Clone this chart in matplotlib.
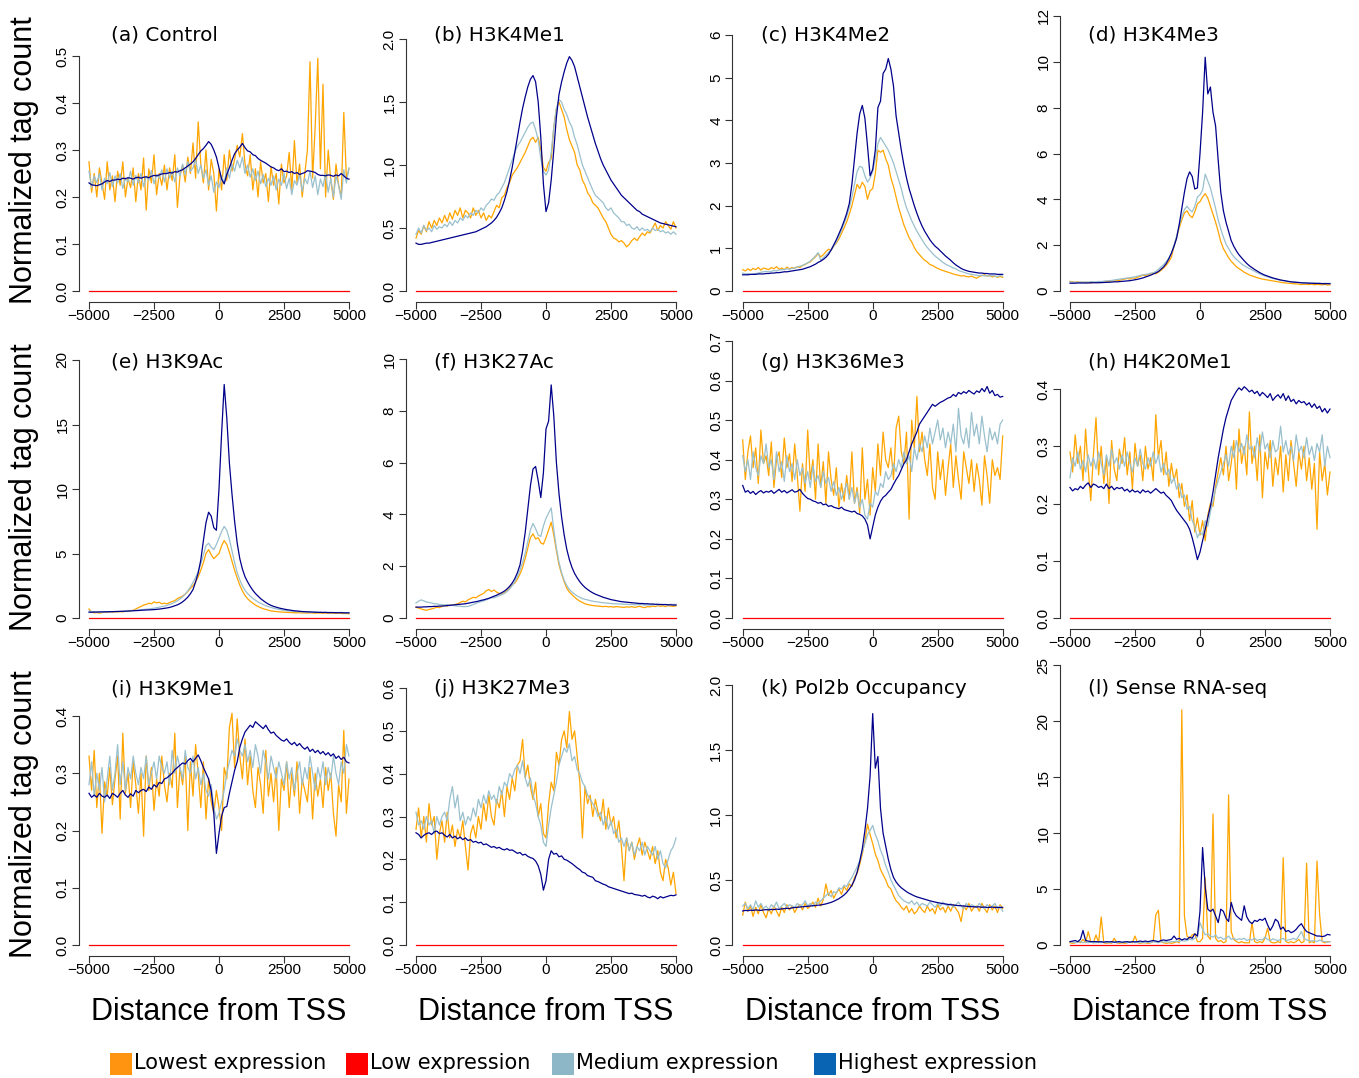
import matplotlib
matplotlib.use("Agg")
import matplotlib.pyplot as plt
from matplotlib.patches import Rectangle

W, H = 1359, 1078

# distancia ao TSS (pb)
dist = list(range(-5000, 5001, 100))
low_expr = [0.0] * len(dist)

# (a) Control
a_lowest = [0.275, 0.210, 0.250, 0.200, 0.262, 0.230, 0.195, 0.275, 0.215, 0.245,
            0.190, 0.255, 0.225, 0.275, 0.200, 0.240, 0.220, 0.262, 0.190, 0.250,
            0.215, 0.283, 0.172, 0.260, 0.230, 0.290, 0.205, 0.250, 0.225, 0.268,
            0.215, 0.262, 0.235, 0.290, 0.178, 0.245, 0.268, 0.232, 0.285, 0.250,
            0.315, 0.240, 0.360, 0.270, 0.230, 0.300, 0.215, 0.280, 0.250, 0.170,
            0.260, 0.215, 0.290, 0.235, 0.300, 0.255, 0.280, 0.310, 0.285, 0.335,
            0.270, 0.245, 0.290, 0.215, 0.260, 0.200, 0.275, 0.230, 0.250, 0.190,
            0.265, 0.225, 0.250, 0.185, 0.270, 0.230, 0.245, 0.295, 0.215, 0.320,
            0.230, 0.270, 0.200, 0.250, 0.300, 0.488, 0.240, 0.350, 0.495, 0.260,
            0.440, 0.200, 0.300, 0.235, 0.195, 0.270, 0.225, 0.200, 0.380, 0.240,
            0.260]
a_medium = [0.255, 0.220, 0.245, 0.230, 0.250, 0.215, 0.240, 0.228, 0.252, 0.222,
            0.245, 0.230, 0.250, 0.218, 0.240, 0.232, 0.255, 0.225, 0.246, 0.230,
            0.250, 0.222, 0.244, 0.236, 0.256, 0.228, 0.248, 0.240, 0.258, 0.232,
            0.260, 0.240, 0.255, 0.232, 0.262, 0.245, 0.270, 0.248, 0.275, 0.255,
            0.262, 0.280, 0.250, 0.268, 0.240, 0.258, 0.225, 0.245, 0.210, 0.232,
            0.220, 0.245, 0.228, 0.262, 0.240, 0.270, 0.255, 0.278, 0.262, 0.285,
            0.250, 0.268, 0.242, 0.260, 0.235, 0.255, 0.228, 0.248, 0.222, 0.240,
            0.225, 0.245, 0.215, 0.238, 0.225, 0.250, 0.218, 0.240, 0.205, 0.235,
            0.225, 0.248, 0.212, 0.240, 0.228, 0.255, 0.220, 0.245, 0.205, 0.238,
            0.222, 0.250, 0.210, 0.240, 0.200, 0.245, 0.225, 0.195, 0.258, 0.230,
            0.262]
a_highest = [0.230, 0.226, 0.225, 0.224, 0.226, 0.228, 0.232, 0.235, 0.233, 0.236,
             0.236, 0.238, 0.237, 0.240, 0.239, 0.241, 0.240, 0.238, 0.241, 0.242,
             0.240, 0.242, 0.243, 0.241, 0.244, 0.246, 0.245, 0.247, 0.249, 0.250,
             0.250, 0.252, 0.251, 0.254, 0.253, 0.256, 0.258, 0.262, 0.266, 0.270,
             0.275, 0.282, 0.290, 0.298, 0.303, 0.310, 0.318, 0.312, 0.300, 0.285,
             0.262, 0.238, 0.228, 0.248, 0.262, 0.278, 0.292, 0.300, 0.306, 0.314,
             0.305, 0.298, 0.296, 0.290, 0.288, 0.282, 0.278, 0.275, 0.272, 0.268,
             0.264, 0.262, 0.258, 0.256, 0.260, 0.254, 0.255, 0.252, 0.254, 0.250,
             0.252, 0.248, 0.250, 0.252, 0.256, 0.255, 0.254, 0.252, 0.248, 0.246,
             0.246, 0.245, 0.247, 0.246, 0.244, 0.247, 0.245, 0.250, 0.245, 0.240,
             0.238]

# (b) H3K4Me1
b_lowest = [0.42, 0.48, 0.45, 0.52, 0.47, 0.55, 0.50, 0.56, 0.52, 0.58,
            0.54, 0.60, 0.55, 0.62, 0.57, 0.64, 0.60, 0.66, 0.58, 0.64,
            0.62, 0.58, 0.66, 0.60, 0.64, 0.58, 0.62, 0.56, 0.60, 0.58,
            0.63, 0.68, 0.66, 0.74, 0.76, 0.82, 0.86, 0.92, 0.95, 0.98,
            1.02, 1.06, 1.10, 1.15, 1.20, 1.22, 1.18, 1.22, 1.12, 0.98,
            0.95, 1.02, 1.05, 1.30, 1.45, 1.50, 1.44, 1.38, 1.28, 1.20,
            1.15, 1.10, 1.00, 0.96, 0.88, 0.84, 0.78, 0.75, 0.70, 0.68,
            0.66, 0.62, 0.58, 0.55, 0.50, 0.45, 0.42, 0.41, 0.39, 0.40,
            0.38, 0.35, 0.37, 0.40, 0.42, 0.40, 0.43, 0.46, 0.44, 0.47,
            0.46, 0.50, 0.54, 0.48, 0.52, 0.50, 0.55, 0.52, 0.49, 0.55,
            0.50]
b_medium = [0.45, 0.50, 0.46, 0.52, 0.48, 0.50, 0.47, 0.52, 0.49, 0.51,
            0.50, 0.53, 0.51, 0.55, 0.52, 0.56, 0.54, 0.58, 0.56, 0.60,
            0.58, 0.62, 0.60, 0.64, 0.62, 0.66, 0.64, 0.68, 0.70, 0.73,
            0.72, 0.76, 0.78, 0.82, 0.86, 0.92, 0.98, 1.04, 1.10, 1.15,
            1.18, 1.22, 1.26, 1.30, 1.33, 1.34, 1.28, 1.20, 1.05, 0.95,
            0.92, 0.96, 1.10, 1.30, 1.45, 1.52, 1.50, 1.44, 1.40, 1.34,
            1.30, 1.22, 1.16, 1.08, 1.00, 0.95, 0.90, 0.85, 0.80, 0.76,
            0.74, 0.72, 0.70, 0.66, 0.64, 0.66, 0.62, 0.60, 0.58, 0.55,
            0.55, 0.52, 0.53, 0.50, 0.49, 0.51, 0.48, 0.50, 0.48, 0.49,
            0.47, 0.50, 0.48, 0.49, 0.47, 0.48, 0.46, 0.47, 0.45, 0.47,
            0.45]
b_highest = [0.38, 0.37, 0.37, 0.375, 0.38, 0.38, 0.385, 0.39, 0.395, 0.40,
             0.405, 0.41, 0.415, 0.42, 0.425, 0.43, 0.435, 0.44, 0.445, 0.45,
             0.455, 0.46, 0.465, 0.47, 0.48, 0.49, 0.50, 0.51, 0.525, 0.54,
             0.56, 0.585, 0.62, 0.66, 0.72, 0.79, 0.88, 0.98, 1.10, 1.22,
             1.34, 1.45, 1.54, 1.62, 1.68, 1.71, 1.66, 1.50, 1.22, 0.85,
             0.63, 0.70, 0.88, 1.12, 1.38, 1.56, 1.66, 1.74, 1.81, 1.86,
             1.83, 1.78, 1.70, 1.62, 1.54, 1.46, 1.38, 1.31, 1.24, 1.17,
             1.11, 1.05, 1.00, 0.96, 0.92, 0.88, 0.85, 0.82, 0.79, 0.76,
             0.74, 0.72, 0.70, 0.68, 0.66, 0.64, 0.63, 0.61, 0.60, 0.59,
             0.58, 0.57, 0.56, 0.55, 0.54, 0.535, 0.53, 0.525, 0.52, 0.515,
             0.51]

# (c) H3K4Me2
c_lowest = [0.50, 0.47, 0.52, 0.48, 0.53, 0.50, 0.55, 0.49, 0.54, 0.52,
            0.50, 0.55, 0.52, 0.57, 0.51, 0.54, 0.50, 0.56, 0.52, 0.55,
            0.53, 0.57, 0.55, 0.60, 0.62, 0.66, 0.68, 0.75, 0.80, 0.88,
            0.80, 0.85, 0.92, 0.98, 0.95, 1.05, 1.12, 1.22, 1.35, 1.48,
            1.62, 1.80, 2.00, 2.25, 2.50, 2.40, 2.55, 2.45, 2.15, 2.35,
            2.40, 2.75, 3.30, 3.25, 3.30, 3.10, 2.95, 2.65, 2.45, 2.20,
            1.95, 1.75, 1.55, 1.40, 1.25, 1.15, 1.02, 0.92, 0.85, 0.78,
            0.72, 0.68, 0.62, 0.60, 0.56, 0.53, 0.50, 0.48, 0.46, 0.44,
            0.42, 0.40, 0.38, 0.37, 0.35, 0.36, 0.34, 0.33, 0.35, 0.32,
            0.30, 0.34, 0.36, 0.38, 0.35, 0.36, 0.33, 0.35, 0.32, 0.34,
            0.32]
c_medium = [0.42, 0.40, 0.41, 0.39, 0.40, 0.41, 0.42, 0.44, 0.45, 0.46,
            0.45, 0.46, 0.48, 0.47, 0.49, 0.50, 0.50, 0.52, 0.51, 0.53,
            0.54, 0.56, 0.58, 0.60, 0.63, 0.66, 0.70, 0.76, 0.82, 0.90,
            0.72, 0.78, 0.84, 0.90, 0.96, 1.05, 1.15, 1.28, 1.42, 1.58,
            1.75, 1.95, 2.20, 2.50, 2.80, 2.92, 2.90, 2.70, 2.55, 2.65,
            2.80, 3.10, 3.45, 3.60, 3.50, 3.40, 3.30, 3.15, 3.00, 2.80,
            2.60, 2.40, 2.15, 1.95, 1.80, 1.65, 1.52, 1.40, 1.30, 1.20,
            1.10, 1.02, 0.95, 0.88, 0.82, 0.77, 0.72, 0.67, 0.63, 0.60,
            0.57, 0.54, 0.52, 0.48, 0.46, 0.44, 0.42, 0.40, 0.39, 0.38,
            0.37, 0.36, 0.37, 0.35, 0.36, 0.35, 0.36, 0.35, 0.34, 0.36,
            0.35]
c_highest = [0.38, 0.38, 0.38, 0.39, 0.39, 0.39, 0.40, 0.40, 0.40, 0.41,
             0.41, 0.42, 0.42, 0.43, 0.43, 0.44, 0.45, 0.45, 0.46, 0.47,
             0.48, 0.49, 0.50, 0.51, 0.53, 0.55, 0.57, 0.60, 0.63, 0.67,
             0.70, 0.74, 0.79, 0.86, 0.96, 1.08, 1.20, 1.34, 1.48, 1.64,
             1.82, 2.05, 2.50, 3.10, 3.70, 4.15, 4.35, 4.05, 3.40, 2.70,
             2.85, 3.30, 4.30, 4.45, 5.10, 5.20, 5.45, 5.20, 4.80, 4.10,
             3.70, 3.30, 2.95, 2.65, 2.40, 2.20, 2.00, 1.82, 1.66, 1.52,
             1.40, 1.30, 1.20, 1.12, 1.05, 1.00, 0.94, 0.88, 0.82, 0.77,
             0.72, 0.66, 0.61, 0.57, 0.53, 0.50, 0.48, 0.46, 0.45, 0.44,
             0.43, 0.42, 0.42, 0.41, 0.41, 0.40, 0.40, 0.40, 0.39, 0.39,
             0.39]

# (d) H3K4Me3
d_lowest = [0.42, 0.40, 0.38, 0.40, 0.37, 0.39, 0.36, 0.38, 0.35, 0.38,
            0.37, 0.39, 0.36, 0.40, 0.42, 0.41, 0.44, 0.43, 0.47, 0.46,
            0.50, 0.52, 0.55, 0.52, 0.58, 0.55, 0.60, 0.64, 0.70, 0.66,
            0.72, 0.74, 0.78, 0.75, 0.82, 0.90, 1.00, 1.12, 1.28, 1.48,
            1.95, 2.35, 2.75, 3.10, 3.40, 3.50, 3.30, 3.20, 3.45, 3.80,
            3.90, 4.10, 4.25, 4.05, 3.70, 3.35, 3.00, 2.60, 2.15, 1.85,
            1.65, 1.45, 1.30, 1.18, 1.05, 0.98, 0.90, 0.82, 0.76, 0.70,
            0.66, 0.62, 0.58, 0.55, 0.52, 0.50, 0.48, 0.46, 0.44, 0.42,
            0.40, 0.38, 0.36, 0.35, 0.34, 0.33, 0.32, 0.31, 0.30, 0.28,
            0.30, 0.29, 0.28, 0.30, 0.27, 0.29, 0.28, 0.27, 0.29, 0.26,
            0.27]
d_medium = [0.40, 0.38, 0.39, 0.37, 0.40, 0.38, 0.40, 0.39, 0.41, 0.40,
            0.40, 0.42, 0.41, 0.43, 0.44, 0.45, 0.46, 0.48, 0.50, 0.52,
            0.53, 0.55, 0.57, 0.58, 0.60, 0.62, 0.65, 0.68, 0.70, 0.72,
            0.74, 0.78, 0.80, 0.85, 0.95, 1.05, 1.15, 1.28, 1.45, 1.65,
            2.00, 2.40, 2.85, 3.25, 3.55, 3.70, 3.55, 3.45, 3.70, 4.10,
            4.20, 4.40, 5.10, 4.80, 4.50, 4.05, 3.60, 3.10, 2.70, 2.35,
            2.05, 1.85, 1.65, 1.50, 1.38, 1.28, 1.18, 1.10, 1.04, 0.98,
            0.92, 0.86, 0.80, 0.75, 0.70, 0.66, 0.62, 0.58, 0.55, 0.52,
            0.49, 0.47, 0.45, 0.43, 0.41, 0.40, 0.39, 0.38, 0.37, 0.36,
            0.36, 0.35, 0.35, 0.34, 0.35, 0.34, 0.34, 0.33, 0.34, 0.33,
            0.33]
d_highest = [0.34, 0.34, 0.34, 0.35, 0.35, 0.35, 0.35, 0.35, 0.36, 0.36,
             0.36, 0.36, 0.37, 0.37, 0.38, 0.38, 0.39, 0.40, 0.40, 0.41,
             0.42, 0.43, 0.44, 0.45, 0.47, 0.49, 0.51, 0.54, 0.57, 0.61,
             0.65, 0.69, 0.74, 0.79, 0.85, 0.95, 1.05, 1.20, 1.40, 1.65,
             1.95, 2.30, 2.90, 3.60, 4.30, 4.90, 5.20, 5.00, 4.45, 4.50,
             6.00, 7.80, 10.20, 8.60, 8.90, 7.80, 7.20, 5.70, 4.30, 3.50,
             3.00, 2.60, 2.20, 1.95, 1.75, 1.58, 1.45, 1.32, 1.20, 1.10,
             1.02, 0.94, 0.87, 0.80, 0.74, 0.69, 0.65, 0.61, 0.57, 0.54,
             0.51, 0.48, 0.46, 0.44, 0.42, 0.40, 0.39, 0.38, 0.37, 0.36,
             0.35, 0.35, 0.34, 0.34, 0.33, 0.33, 0.33, 0.32, 0.32, 0.32,
             0.32]

# (e) H3K9Ac
e_lowest = [0.70, 0.45, 0.40, 0.42, 0.38, 0.42, 0.45, 0.43, 0.47, 0.45,
            0.48, 0.46, 0.50, 0.47, 0.52, 0.50, 0.55, 0.60, 0.70, 0.80,
            0.90, 1.00, 1.05, 1.15, 1.10, 1.25, 1.18, 1.22, 1.10, 1.15,
            1.10, 1.20, 1.28, 1.35, 1.50, 1.60, 1.70, 1.85, 2.05, 2.30,
            2.50, 2.80, 3.20, 3.70, 4.30, 5.00, 5.30, 4.90, 4.60, 4.80,
            5.00, 5.60, 6.00, 5.70, 5.10, 4.40, 3.70, 3.10, 2.55, 2.10,
            1.75, 1.50, 1.30, 1.15, 1.00, 0.90, 0.80, 0.72, 0.66, 0.60,
            0.55, 0.52, 0.50, 0.48, 0.46, 0.45, 0.44, 0.43, 0.42, 0.41,
            0.40, 0.41, 0.39, 0.40, 0.38, 0.40, 0.39, 0.37, 0.39, 0.38,
            0.37, 0.39, 0.36, 0.38, 0.37, 0.35, 0.38, 0.36, 0.34, 0.36,
            0.32]
e_medium = [0.55, 0.50, 0.48, 0.46, 0.47, 0.45, 0.48, 0.46, 0.49, 0.48,
            0.50, 0.49, 0.52, 0.51, 0.54, 0.53, 0.56, 0.58, 0.60, 0.62,
            0.64, 0.66, 0.68, 0.70, 0.73, 0.76, 0.80, 0.84, 0.88, 0.92,
            0.98, 1.05, 1.12, 1.22, 1.34, 1.48, 1.65, 1.85, 2.10, 2.40,
            2.75, 3.15, 3.60, 4.20, 4.90, 5.60, 5.80, 5.50, 5.30, 5.70,
            6.20, 6.70, 7.10, 6.80, 6.10, 5.20, 4.30, 3.50, 2.95, 2.50,
            2.15, 1.90, 1.70, 1.52, 1.38, 1.25, 1.14, 1.04, 0.95, 0.88,
            0.82, 0.76, 0.71, 0.67, 0.63, 0.60, 0.57, 0.55, 0.53, 0.51,
            0.50, 0.49, 0.48, 0.47, 0.47, 0.46, 0.45, 0.45, 0.44, 0.44,
            0.43, 0.45, 0.42, 0.44, 0.41, 0.43, 0.42, 0.44, 0.41, 0.42,
            0.40]
e_highest = [0.45, 0.45, 0.46, 0.46, 0.47, 0.47, 0.48, 0.48, 0.49, 0.49,
             0.50, 0.51, 0.51, 0.52, 0.53, 0.54, 0.55, 0.56, 0.57, 0.58,
             0.60, 0.61, 0.62, 0.63, 0.64, 0.65, 0.67, 0.69, 0.72, 0.75,
             0.78, 0.82, 0.88, 0.95, 1.02, 1.12, 1.25, 1.42, 1.62, 1.88,
             2.20, 2.80, 3.50, 4.50, 6.00, 7.40, 8.20, 7.90, 7.00, 6.80,
             10.00, 14.30, 18.10, 15.50, 12.00, 9.60, 7.50, 5.80, 4.60, 3.80,
             3.20, 2.80, 2.45, 2.15, 1.90, 1.70, 1.50, 1.35, 1.20, 1.08,
             0.98, 0.90, 0.84, 0.78, 0.73, 0.69, 0.65, 0.62, 0.59, 0.56,
             0.54, 0.52, 0.50, 0.49, 0.48, 0.47, 0.46, 0.45, 0.44, 0.44,
             0.43, 0.43, 0.42, 0.42, 0.42, 0.41, 0.41, 0.41, 0.40, 0.40,
             0.40]

# (f) H3K27Ac
f_lowest = [0.42, 0.38, 0.35, 0.32, 0.30, 0.33, 0.35, 0.38, 0.42, 0.40,
            0.45, 0.48, 0.46, 0.50, 0.49, 0.52, 0.55, 0.60, 0.65, 0.62,
            0.70, 0.75, 0.80, 0.78, 0.85, 0.90, 0.95, 1.05, 1.10, 1.02,
            1.08, 1.00, 0.95, 0.92, 0.98, 1.05, 1.15, 1.28, 1.35, 1.50,
            1.70, 1.95, 2.30, 2.70, 3.10, 3.25, 3.05, 3.10, 2.90, 2.85,
            3.10, 3.40, 3.70, 3.20, 2.60, 2.05, 1.70, 1.40, 1.15, 1.00,
            0.90, 0.80, 0.72, 0.65, 0.60, 0.55, 0.52, 0.50, 0.48, 0.47,
            0.46, 0.45, 0.44, 0.45, 0.43, 0.44, 0.42, 0.44, 0.43, 0.42,
            0.41, 0.43, 0.42, 0.44, 0.41, 0.43, 0.45, 0.42, 0.40, 0.44,
            0.43, 0.46, 0.44, 0.48, 0.45, 0.47, 0.44, 0.48, 0.46, 0.45,
            0.47]
f_medium = [0.58, 0.65, 0.70, 0.66, 0.62, 0.60, 0.58, 0.55, 0.55, 0.52,
            0.52, 0.50, 0.52, 0.48, 0.50, 0.47, 0.46, 0.45, 0.44, 0.44,
            0.45, 0.48, 0.52, 0.56, 0.60, 0.63, 0.66, 0.70, 0.74, 0.78,
            0.78, 0.82, 0.86, 0.90, 0.95, 1.02, 1.12, 1.25, 1.40, 1.60,
            1.85, 2.15, 2.50, 2.95, 3.40, 3.65, 3.45, 3.20, 3.15, 3.55,
            3.85, 4.05, 4.25, 3.40, 2.70, 2.15, 1.75, 1.45, 1.25, 1.10,
            1.00, 0.92, 0.85, 0.80, 0.75, 0.72, 0.70, 0.67, 0.65, 0.63,
            0.62, 0.60, 0.59, 0.58, 0.57, 0.56, 0.55, 0.55, 0.54, 0.54,
            0.53, 0.53, 0.52, 0.53, 0.51, 0.52, 0.51, 0.52, 0.50, 0.51,
            0.50, 0.51, 0.52, 0.50, 0.53, 0.51, 0.52, 0.50, 0.53, 0.52,
            0.53]
f_highest = [0.42, 0.42, 0.42, 0.43, 0.43, 0.44, 0.44, 0.45, 0.45, 0.46,
             0.46, 0.47, 0.48, 0.49, 0.50, 0.51, 0.52, 0.53, 0.54, 0.55,
             0.57, 0.59, 0.61, 0.63, 0.65, 0.68, 0.70, 0.73, 0.76, 0.80,
             0.84, 0.88, 0.93, 0.98, 1.04, 1.12, 1.22, 1.35, 1.52, 1.75,
             2.05, 2.60, 3.30, 4.20, 5.10, 5.75, 5.85, 5.30, 4.65, 5.60,
             7.30, 7.60, 9.00, 7.80, 6.00, 4.80, 3.90, 3.20, 2.65, 2.25,
             1.95, 1.72, 1.55, 1.40, 1.28, 1.18, 1.10, 1.03, 0.97, 0.92,
             0.88, 0.84, 0.80, 0.77, 0.74, 0.71, 0.69, 0.67, 0.65, 0.63,
             0.62, 0.61, 0.60, 0.59, 0.58, 0.57, 0.56, 0.56, 0.55, 0.55,
             0.54, 0.54, 0.53, 0.53, 0.52, 0.52, 0.52, 0.51, 0.51, 0.50,
             0.50]

# (g) H3K36Me3
g_lowest = [0.450, 0.350, 0.420, 0.460, 0.380, 0.430, 0.340, 0.475, 0.390, 0.410,
            0.360, 0.445, 0.330, 0.400, 0.420, 0.355, 0.455, 0.380, 0.415, 0.345,
            0.440, 0.360, 0.270, 0.390, 0.320, 0.475, 0.350, 0.400, 0.300, 0.440,
            0.330, 0.395, 0.290, 0.420, 0.350, 0.310, 0.380, 0.280, 0.340, 0.295,
            0.360, 0.300, 0.420, 0.290, 0.330, 0.265, 0.430, 0.300, 0.350, 0.260,
            0.380, 0.320, 0.440, 0.360, 0.470, 0.400, 0.380, 0.430, 0.350, 0.480,
            0.510, 0.420, 0.390, 0.470, 0.250, 0.500, 0.430, 0.560, 0.420, 0.470,
            0.400, 0.360, 0.440, 0.330, 0.300, 0.420, 0.350, 0.400, 0.310, 0.380,
            0.440, 0.330, 0.410, 0.350, 0.300, 0.420, 0.380, 0.340, 0.400, 0.320,
            0.390, 0.350, 0.285, 0.410, 0.360, 0.290, 0.400, 0.360, 0.380, 0.350,
            0.460]
g_medium = [0.410, 0.370, 0.400, 0.350, 0.420, 0.380, 0.360, 0.410, 0.390, 0.440,
            0.380, 0.400, 0.350, 0.420, 0.370, 0.395, 0.345, 0.410, 0.370, 0.390,
            0.350, 0.400, 0.360, 0.380, 0.340, 0.370, 0.330, 0.385, 0.345, 0.360,
            0.330, 0.370, 0.340, 0.355, 0.320, 0.345, 0.310, 0.330, 0.300, 0.320,
            0.340, 0.300, 0.330, 0.290, 0.320, 0.280, 0.300, 0.260, 0.250, 0.290,
            0.280, 0.320, 0.310, 0.340, 0.330, 0.370, 0.350, 0.360, 0.390, 0.370,
            0.400, 0.380, 0.420, 0.390, 0.410, 0.370, 0.430, 0.400, 0.440, 0.420,
            0.460, 0.430, 0.480, 0.440, 0.470, 0.500, 0.450, 0.480, 0.430, 0.470,
            0.440, 0.490, 0.420, 0.530, 0.460, 0.440, 0.480, 0.430, 0.520, 0.460,
            0.490, 0.440, 0.510, 0.460, 0.420, 0.480, 0.450, 0.470, 0.440, 0.490,
            0.500]
g_highest = [0.335, 0.318, 0.322, 0.315, 0.320, 0.312, 0.318, 0.322, 0.316, 0.320,
             0.318, 0.322, 0.315, 0.320, 0.325, 0.318, 0.322, 0.316, 0.320, 0.324,
             0.318, 0.320, 0.325, 0.315, 0.308, 0.302, 0.300, 0.296, 0.294, 0.290,
             0.292, 0.286, 0.288, 0.282, 0.284, 0.280, 0.278, 0.276, 0.280, 0.274,
             0.272, 0.270, 0.268, 0.270, 0.264, 0.262, 0.258, 0.250, 0.235, 0.200,
             0.230, 0.260, 0.280, 0.295, 0.305, 0.310, 0.318, 0.325, 0.338, 0.350,
             0.360, 0.375, 0.390, 0.400, 0.420, 0.440, 0.455, 0.470, 0.490, 0.500,
             0.510, 0.520, 0.530, 0.540, 0.535, 0.540, 0.545, 0.548, 0.552, 0.556,
             0.558, 0.565, 0.560, 0.570, 0.566, 0.572, 0.568, 0.575, 0.570, 0.566,
             0.574, 0.570, 0.580, 0.572, 0.585, 0.568, 0.575, 0.562, 0.565, 0.558,
             0.560]

# (h) H4K20Me1
h_lowest = [0.290, 0.255, 0.320, 0.270, 0.300, 0.240, 0.330, 0.260, 0.205, 0.285,
            0.350, 0.250, 0.300, 0.235, 0.280, 0.200, 0.310, 0.260, 0.240, 0.295,
            0.270, 0.315, 0.250, 0.290, 0.225, 0.305, 0.265, 0.285, 0.240, 0.300,
            0.260, 0.280, 0.240, 0.355, 0.280, 0.310, 0.250, 0.290, 0.230, 0.270,
            0.240, 0.260, 0.210, 0.235, 0.195, 0.215, 0.170, 0.205, 0.150, 0.175,
            0.145, 0.170, 0.135, 0.180, 0.200, 0.195, 0.230, 0.255, 0.280, 0.250,
            0.300, 0.240, 0.270, 0.310, 0.225, 0.330, 0.270, 0.300, 0.250, 0.360,
            0.270, 0.300, 0.240, 0.320, 0.210, 0.290, 0.260, 0.310, 0.230, 0.280,
            0.250, 0.300, 0.220, 0.285, 0.240, 0.310, 0.270, 0.230, 0.290, 0.260,
            0.300, 0.240, 0.280, 0.225, 0.270, 0.155, 0.290, 0.240, 0.270, 0.215,
            0.255]
h_medium = [0.245, 0.280, 0.265, 0.290, 0.260, 0.275, 0.255, 0.285, 0.265, 0.280,
            0.260, 0.290, 0.270, 0.250, 0.285, 0.265, 0.295, 0.270, 0.280, 0.260,
            0.285, 0.265, 0.290, 0.270, 0.255, 0.280, 0.265, 0.295, 0.270, 0.260,
            0.280, 0.265, 0.290, 0.270, 0.285, 0.255, 0.270, 0.250, 0.260, 0.235,
            0.245, 0.225, 0.235, 0.210, 0.215, 0.190, 0.195, 0.170, 0.160, 0.140,
            0.150, 0.145, 0.170, 0.160, 0.185, 0.205, 0.225, 0.240, 0.255, 0.270,
            0.285, 0.265, 0.300, 0.280, 0.310, 0.290, 0.305, 0.285, 0.320, 0.295,
            0.300, 0.280, 0.315, 0.290, 0.325, 0.295, 0.305, 0.280, 0.310, 0.290,
            0.295, 0.335, 0.290, 0.310, 0.285, 0.300, 0.275, 0.320, 0.290, 0.300,
            0.280, 0.315, 0.285, 0.300, 0.275, 0.305, 0.290, 0.320, 0.265, 0.300,
            0.280]
h_highest = [0.228, 0.222, 0.226, 0.224, 0.230, 0.226, 0.232, 0.236, 0.228, 0.234,
             0.232, 0.228, 0.230, 0.226, 0.234, 0.226, 0.230, 0.224, 0.228, 0.226,
             0.228, 0.222, 0.225, 0.220, 0.224, 0.220, 0.222, 0.218, 0.224, 0.220,
             0.222, 0.218, 0.222, 0.226, 0.222, 0.218, 0.220, 0.214, 0.210, 0.205,
             0.196, 0.188, 0.182, 0.176, 0.170, 0.164, 0.155, 0.140, 0.122, 0.102,
             0.115, 0.135, 0.155, 0.175, 0.195, 0.220, 0.250, 0.280, 0.305, 0.330,
             0.350, 0.365, 0.380, 0.388, 0.396, 0.402, 0.398, 0.404, 0.400, 0.395,
             0.398, 0.392, 0.396, 0.388, 0.394, 0.390, 0.385, 0.392, 0.380, 0.386,
             0.390, 0.384, 0.392, 0.380, 0.388, 0.378, 0.382, 0.374, 0.380, 0.376,
             0.378, 0.372, 0.376, 0.368, 0.374, 0.366, 0.370, 0.360, 0.366, 0.358,
             0.365]

# (i) H3K9Me1
i_lowest = [0.330, 0.270, 0.340, 0.240, 0.300, 0.195, 0.285, 0.260, 0.310, 0.245,
            0.290, 0.330, 0.220, 0.370, 0.265, 0.300, 0.240, 0.320, 0.280, 0.230,
            0.300, 0.190, 0.330, 0.270, 0.310, 0.235, 0.290, 0.260, 0.330, 0.280,
            0.250, 0.300, 0.275, 0.370, 0.240, 0.310, 0.280, 0.330, 0.200, 0.320,
            0.260, 0.350, 0.300, 0.240, 0.320, 0.220, 0.290, 0.250, 0.230, 0.270,
            0.240, 0.200, 0.310, 0.290, 0.380, 0.405, 0.310, 0.395, 0.330, 0.290,
            0.360, 0.280, 0.330, 0.270, 0.240, 0.310, 0.280, 0.230, 0.340, 0.260,
            0.300, 0.250, 0.310, 0.200, 0.290, 0.270, 0.320, 0.240, 0.300, 0.260,
            0.320, 0.230, 0.290, 0.270, 0.250, 0.310, 0.220, 0.300, 0.260, 0.290,
            0.240, 0.310, 0.270, 0.300, 0.230, 0.190, 0.280, 0.250, 0.375, 0.230,
            0.290]
i_medium = [0.280, 0.320, 0.260, 0.300, 0.270, 0.310, 0.250, 0.290, 0.330, 0.270,
            0.300, 0.350, 0.280, 0.320, 0.270, 0.310, 0.290, 0.330, 0.300, 0.280,
            0.310, 0.290, 0.330, 0.280, 0.300, 0.320, 0.290, 0.330, 0.310, 0.300,
            0.320, 0.280, 0.340, 0.300, 0.330, 0.310, 0.290, 0.340, 0.310, 0.300,
            0.330, 0.290, 0.310, 0.280, 0.300, 0.270, 0.260, 0.280, 0.240, 0.220,
            0.230, 0.250, 0.270, 0.300, 0.320, 0.340, 0.330, 0.360, 0.340, 0.330,
            0.350, 0.320, 0.340, 0.310, 0.350, 0.330, 0.300, 0.340, 0.320, 0.290,
            0.330, 0.310, 0.290, 0.320, 0.300, 0.280, 0.320, 0.290, 0.310, 0.270,
            0.300, 0.320, 0.280, 0.310, 0.290, 0.330, 0.300, 0.270, 0.310, 0.290,
            0.320, 0.280, 0.310, 0.290, 0.330, 0.300, 0.280, 0.320, 0.300, 0.350,
            0.330]
i_highest = [0.265, 0.258, 0.262, 0.258, 0.265, 0.260, 0.258, 0.262, 0.256, 0.265,
             0.262, 0.258, 0.265, 0.270, 0.262, 0.258, 0.264, 0.260, 0.270, 0.266,
             0.270, 0.272, 0.268, 0.276, 0.272, 0.280, 0.276, 0.284, 0.282, 0.290,
             0.292, 0.296, 0.300, 0.306, 0.310, 0.314, 0.318, 0.316, 0.322, 0.326,
             0.320, 0.326, 0.332, 0.322, 0.310, 0.300, 0.290, 0.270, 0.230, 0.160,
             0.195, 0.225, 0.240, 0.242, 0.265, 0.285, 0.305, 0.320, 0.345, 0.360,
             0.372, 0.378, 0.384, 0.380, 0.390, 0.386, 0.382, 0.378, 0.384, 0.376,
             0.370, 0.372, 0.366, 0.362, 0.358, 0.356, 0.360, 0.354, 0.350, 0.354,
             0.348, 0.352, 0.346, 0.342, 0.346, 0.338, 0.342, 0.336, 0.340, 0.334,
             0.338, 0.332, 0.336, 0.330, 0.334, 0.326, 0.330, 0.324, 0.328, 0.320,
             0.318]

# (j) H3K27Me3
j_lowest = [0.270, 0.320, 0.250, 0.300, 0.240, 0.330, 0.280, 0.300, 0.200, 0.260,
            0.290, 0.240, 0.310, 0.250, 0.280, 0.230, 0.270, 0.250, 0.290, 0.230,
            0.175, 0.260, 0.280, 0.250, 0.300, 0.270, 0.330, 0.290, 0.350, 0.300,
            0.280, 0.340, 0.320, 0.360, 0.300, 0.370, 0.340, 0.390, 0.360, 0.420,
            0.430, 0.480, 0.390, 0.420, 0.370, 0.340, 0.380, 0.300, 0.330, 0.260,
            0.250, 0.330, 0.380, 0.360, 0.450, 0.420, 0.480, 0.500, 0.460, 0.545,
            0.480, 0.500, 0.440, 0.380, 0.250, 0.370, 0.330, 0.350, 0.300, 0.340,
            0.310, 0.290, 0.340, 0.270, 0.320, 0.280, 0.300, 0.250, 0.290, 0.230,
            0.150, 0.250, 0.220, 0.240, 0.200, 0.230, 0.250, 0.210, 0.240, 0.220,
            0.200, 0.230, 0.190, 0.220, 0.170, 0.150, 0.200, 0.180, 0.140, 0.170,
            0.120]
j_medium = [0.310, 0.280, 0.290, 0.270, 0.300, 0.280, 0.290, 0.260, 0.300, 0.280,
            0.300, 0.310, 0.290, 0.340, 0.370, 0.320, 0.350, 0.290, 0.310, 0.280,
            0.300, 0.290, 0.320, 0.300, 0.340, 0.320, 0.350, 0.330, 0.360, 0.340,
            0.350, 0.330, 0.370, 0.350, 0.380, 0.370, 0.400, 0.390, 0.410, 0.420,
            0.400, 0.430, 0.390, 0.370, 0.390, 0.350, 0.330, 0.300, 0.280, 0.240,
            0.230, 0.280, 0.320, 0.350, 0.380, 0.420, 0.440, 0.460, 0.450, 0.470,
            0.430, 0.440, 0.410, 0.400, 0.380, 0.370, 0.350, 0.340, 0.330, 0.320,
            0.300, 0.310, 0.280, 0.300, 0.270, 0.290, 0.260, 0.270, 0.240, 0.250,
            0.230, 0.250, 0.220, 0.240, 0.210, 0.230, 0.220, 0.240, 0.210, 0.230,
            0.220, 0.210, 0.230, 0.200, 0.220, 0.190, 0.180, 0.200, 0.220, 0.230,
            0.250]
j_highest = [0.262, 0.258, 0.250, 0.256, 0.260, 0.262, 0.258, 0.264, 0.266, 0.260,
             0.262, 0.256, 0.252, 0.258, 0.250, 0.254, 0.248, 0.252, 0.246, 0.250,
             0.244, 0.246, 0.240, 0.242, 0.238, 0.240, 0.234, 0.236, 0.232, 0.228,
             0.230, 0.226, 0.228, 0.224, 0.222, 0.225, 0.221, 0.222, 0.218, 0.214,
             0.216, 0.210, 0.212, 0.207, 0.204, 0.202, 0.196, 0.185, 0.165, 0.128,
             0.150, 0.200, 0.220, 0.212, 0.214, 0.206, 0.208, 0.200, 0.198, 0.194,
             0.190, 0.185, 0.180, 0.176, 0.170, 0.168, 0.162, 0.160, 0.158, 0.150,
             0.148, 0.145, 0.142, 0.140, 0.136, 0.134, 0.132, 0.130, 0.128, 0.126,
             0.124, 0.122, 0.120, 0.121, 0.118, 0.117, 0.116, 0.114, 0.116, 0.112,
             0.110, 0.114, 0.112, 0.108, 0.113, 0.110, 0.112, 0.114, 0.116, 0.115,
             0.117]

# (k) Pol2b Occupancy
k_lowest = [0.230, 0.330, 0.260, 0.300, 0.220, 0.290, 0.240, 0.310, 0.250, 0.210,
            0.280, 0.240, 0.300, 0.260, 0.220, 0.290, 0.250, 0.310, 0.270, 0.300,
            0.250, 0.290, 0.310, 0.270, 0.320, 0.280, 0.300, 0.330, 0.290, 0.360,
            0.300, 0.350, 0.470, 0.380, 0.420, 0.360, 0.400, 0.430, 0.390, 0.450,
            0.420, 0.470, 0.450, 0.520, 0.550, 0.620, 0.700, 0.800, 0.930, 0.850,
            0.780, 0.700, 0.650, 0.580, 0.540, 0.500, 0.450, 0.430, 0.380, 0.340,
            0.320, 0.290, 0.270, 0.300, 0.250, 0.280, 0.240, 0.260, 0.300, 0.270,
            0.250, 0.300, 0.260, 0.280, 0.240, 0.310, 0.270, 0.290, 0.250, 0.300,
            0.260, 0.310, 0.280, 0.250, 0.180, 0.300, 0.270, 0.320, 0.260, 0.290,
            0.300, 0.260, 0.320, 0.280, 0.250, 0.310, 0.270, 0.300, 0.250, 0.310,
            0.280]
k_medium = [0.300, 0.320, 0.280, 0.310, 0.270, 0.340, 0.290, 0.320, 0.280, 0.300,
            0.270, 0.310, 0.290, 0.330, 0.280, 0.300, 0.320, 0.290, 0.310, 0.300,
            0.290, 0.320, 0.300, 0.310, 0.340, 0.300, 0.320, 0.300, 0.330, 0.320,
            0.340, 0.360, 0.380, 0.400, 0.370, 0.410, 0.400, 0.440, 0.430, 0.460,
            0.450, 0.490, 0.520, 0.560, 0.600, 0.650, 0.720, 0.780, 0.850, 0.880,
            0.920, 0.850, 0.800, 0.730, 0.680, 0.610, 0.560, 0.500, 0.460, 0.420,
            0.380, 0.360, 0.340, 0.330, 0.320, 0.340, 0.310, 0.330, 0.300, 0.320,
            0.310, 0.300, 0.330, 0.310, 0.290, 0.320, 0.300, 0.330, 0.310, 0.300,
            0.320, 0.290, 0.310, 0.330, 0.300, 0.280, 0.320, 0.290, 0.310, 0.300,
            0.290, 0.320, 0.300, 0.280, 0.310, 0.290, 0.300, 0.320, 0.280, 0.300,
            0.260]
k_highest = [0.262, 0.266, 0.264, 0.268, 0.266, 0.270, 0.268, 0.266, 0.270, 0.272,
             0.270, 0.274, 0.272, 0.276, 0.274, 0.278, 0.280, 0.282, 0.280, 0.286,
             0.288, 0.290, 0.292, 0.294, 0.296, 0.298, 0.300, 0.302, 0.304, 0.306,
             0.308, 0.312, 0.316, 0.322, 0.328, 0.336, 0.346, 0.356, 0.370, 0.385,
             0.405, 0.430, 0.460, 0.500, 0.560, 0.640, 0.740, 0.880, 1.050, 1.300,
             1.780, 1.360, 1.450, 1.050, 0.860, 0.760, 0.660, 0.580, 0.520, 0.485,
             0.460, 0.440, 0.425, 0.410, 0.398, 0.388, 0.378, 0.370, 0.364, 0.358,
             0.352, 0.346, 0.340, 0.335, 0.330, 0.326, 0.322, 0.318, 0.316, 0.312,
             0.310, 0.308, 0.305, 0.303, 0.302, 0.300, 0.298, 0.296, 0.295, 0.294,
             0.292, 0.294, 0.290, 0.292, 0.288, 0.290, 0.292, 0.288, 0.290, 0.288,
             0.290]

# (l) Sense RNA-seq
l_lowest = [0.20, 0.15, 0.20, 0.30, 0.20, 0.50, 0.20, 1.20, 0.30, 0.20,
            0.90, 0.20, 2.50, 0.20, 0.15, 0.20, 0.15, 0.60, 0.20, 0.15,
            0.20, 0.15, 0.20, 0.30, 0.20, 0.80, 0.20, 0.15, 0.20, 0.20,
            0.15, 0.20, 0.30, 2.70, 3.10, 0.30, 0.20, 0.15, 0.20, 0.15,
            0.20, 0.30, 0.20, 21.00, 2.60, 0.80, 0.60, 0.90, 1.00, 0.30,
            0.30, 0.60, 6.00, 0.80, 0.50, 11.70, 0.60, 0.30, 0.40, 0.20,
            0.30, 13.40, 1.20, 0.50, 0.30, 0.20, 0.30, 0.20, 0.20, 0.20,
            2.00, 0.30, 0.20, 0.30, 0.20, 0.60, 1.50, 0.30, 0.20, 0.20,
            0.30, 0.20, 7.80, 0.30, 0.20, 0.30, 0.20, 0.30, 0.50, 0.20,
            0.30, 7.30, 0.20, 0.30, 0.20, 7.50, 2.70, 0.30, 0.20, 0.30,
            0.30]
l_medium = [0.30, 0.25, 0.20, 0.25, 0.30, 0.20, 0.25, 0.20, 0.25, 0.20,
            0.20, 0.25, 0.20, 0.25, 0.20, 0.25, 0.20, 0.25, 0.20, 0.25,
            0.20, 0.25, 0.20, 0.25, 0.30, 0.20, 0.25, 0.20, 0.25, 0.20,
            0.25, 0.20, 0.30, 0.25, 0.20, 0.30, 0.25, 0.30, 0.25, 0.30,
            0.30, 0.35, 0.30, 0.40, 0.35, 0.40, 0.50, 0.45, 0.60, 0.70,
            2.00, 1.40, 0.90, 1.00, 0.80, 0.70, 0.90, 0.60, 0.70, 0.50,
            0.60, 0.80, 0.50, 0.60, 0.45, 0.55, 0.50, 0.60, 0.40, 0.50,
            0.45, 0.60, 0.40, 0.50, 0.45, 0.70, 0.50, 0.40, 0.55, 0.45,
            0.40, 0.50, 0.60, 0.40, 0.45, 0.50, 0.60, 0.45, 0.80, 1.20,
            0.60, 0.45, 0.40, 0.35, 0.40, 0.30, 0.45, 0.35, 0.30, 0.25,
            0.30]
l_highest = [0.30, 0.35, 0.40, 0.30, 0.50, 1.30, 0.40, 0.35, 0.30, 0.30,
             0.30, 0.28, 0.30, 0.25, 0.30, 0.28, 0.30, 0.25, 0.28, 0.30,
             0.25, 0.28, 0.30, 0.25, 0.30, 0.28, 0.30, 0.35, 0.30, 0.35,
             0.30, 0.35, 0.40, 0.35, 0.30, 0.40, 0.45, 0.40, 0.45, 0.50,
             0.80, 0.50, 0.60, 0.45, 0.55, 0.50, 0.70, 0.60, 1.00, 0.80,
             3.00, 8.70, 5.20, 3.20, 3.00, 3.20, 2.60, 2.00, 3.20, 3.00,
             2.40, 2.10, 3.80, 3.00, 2.60, 2.40, 2.20, 3.50, 2.50, 2.10,
             1.90, 2.20, 2.10, 2.30, 2.20, 2.40, 1.80, 1.30, 1.70, 2.30,
             2.10, 1.40, 1.60, 1.20, 1.30, 1.10, 1.20, 1.40, 1.70, 1.90,
             1.50, 1.20, 1.10, 1.00, 0.90, 0.80, 0.80, 0.75, 0.80, 0.95,
             0.90]

titulos = ["(a) Control", "(b) H3K4Me1", "(c) H3K4Me2", "(d) H3K4Me3",
           "(e) H3K9Ac", "(f) H3K27Ac", "(g) H3K36Me3", "(h) H4K20Me1",
           "(i) H3K9Me1", "(j) H3K27Me3", "(k) Pol2b Occupancy", "(l) Sense RNA-seq"]
series = [(a_lowest, a_medium, a_highest), (b_lowest, b_medium, b_highest),
          (c_lowest, c_medium, c_highest), (d_lowest, d_medium, d_highest),
          (e_lowest, e_medium, e_highest), (f_lowest, f_medium, f_highest),
          (g_lowest, g_medium, g_highest), (h_lowest, h_medium, h_highest),
          (i_lowest, i_medium, i_highest), (j_lowest, j_medium, j_highest),
          (k_lowest, k_medium, k_highest), (l_lowest, l_medium, l_highest)]
# eixo y: (ultimo tick, passo, casas decimais)
eixos_y = [(0.5, 0.1, 1), (2.0, 0.5, 1), (6, 1, 0), (12, 2, 0),
           (20, 5, 0), (10, 2, 0), (0.7, 0.1, 1), (0.4, 0.1, 1),
           (0.4, 0.1, 1), (0.6, 0.1, 1), (2.0, 0.5, 1), (25, 5, 0)]
# pixel (na linha) onde fica o ultimo tick do eixo y
topo_px = [56, 39, 35, 16, 33, 32, 14, 62, 62, 34, 31, 11]

plt.rcParams['font.family'] = ['Liberation Sans', 'DejaVu Sans']

fig = plt.figure(figsize=(W / 100, H / 100), dpi=100)

col_x = [89, 416, 742.7, 1070]
titulo_x = [111, 434, 761, 1088]

for n in range(12):
    lin, col = divmod(n, 4)
    zero = 291 + 327 * lin
    topo = 3 + 327 * lin
    base = 302 + 327 * lin
    ymax, passo, dec = eixos_y[n]
    esc = (291 - topo_px[n]) / ymax  # pixels por unidade

    esq = col_x[col] - 10.4
    ax = fig.add_axes([esq / W, 1 - base / H, 280.8 / W, 299 / H])
    ax.patch.set_alpha(0)

    lowest, medium, highest = series[n]
    ax.plot(dist, lowest, color='#FFA500', lw=0.9)
    ax.plot(dist, low_expr, color='#FF0000', lw=0.9)
    ax.plot(dist, medium, color='#9AC0CD', lw=0.9)
    ax.plot(dist, highest, color='#00008B', lw=0.9)

    ax.set_xlim(-5400, 5400)
    ax.set_ylim(-(base - zero) / esc, (zero - topo) / esc)

    for lado in ['top', 'right']:
        ax.spines[lado].set_visible(False)
    ax.spines['left'].set_bounds(0, ymax)
    ax.spines['bottom'].set_bounds(-5000, 5000)
    for lado in ['left', 'bottom']:
        ax.spines[lado].set_linewidth(0.8)
        ax.spines[lado].set_color('#333333')

    ax.set_xticks([-5000, -2500, 0, 2500, 5000])
    nt = int(round(ymax / passo))
    yt = [passo * k for k in range(nt + 1)]
    ax.set_yticks(yt, [f"{v:.{dec}f}" for v in yt], rotation=90, va='center')
    ax.tick_params(direction='out', length=5, width=0.8, color='#333333',
                   labelsize=11, pad=1.5)
    ax.tick_params(axis='x', pad=0)

    fig.text(titulo_x[col] / W, 1 - (35 + 327 * lin) / H, titulos[n],
             fontsize=14.4, family='DejaVu Sans', ha='left', va='center')

for lin in range(3):
    fig.text(24 / W, 1 - (160 + 327 * lin) / H, "Normalized tag count",
             fontsize=22, rotation=90, ha='center', va='center')

for col in range(4):
    fig.text((col_x[col] + 130) / W, 1 - 1012 / H, "Distance from TSS",
             fontsize=22, ha='center', va='center')

# legenda
leg_nomes = ["Lowest expression", "Low expression", "Medium expression", "Highest expression"]
leg_cores = ['#FF9410', '#FF0000', '#8DB7C6', '#0A64B4']
leg_x = [110, 346, 552, 814]
for nome, cor, x in zip(leg_nomes, leg_cores, leg_x):
    fig.add_artist(Rectangle((x / W, 1 - 1075 / H), 22 / W, 22 / H,
                             transform=fig.transFigure, color=cor, lw=0))
    fig.text((x + 24) / W, 1 - 1063 / H, nome, fontsize=15,
             family='DejaVu Sans', ha='left', va='center')

fig.savefig("out.png", dpi=100)
